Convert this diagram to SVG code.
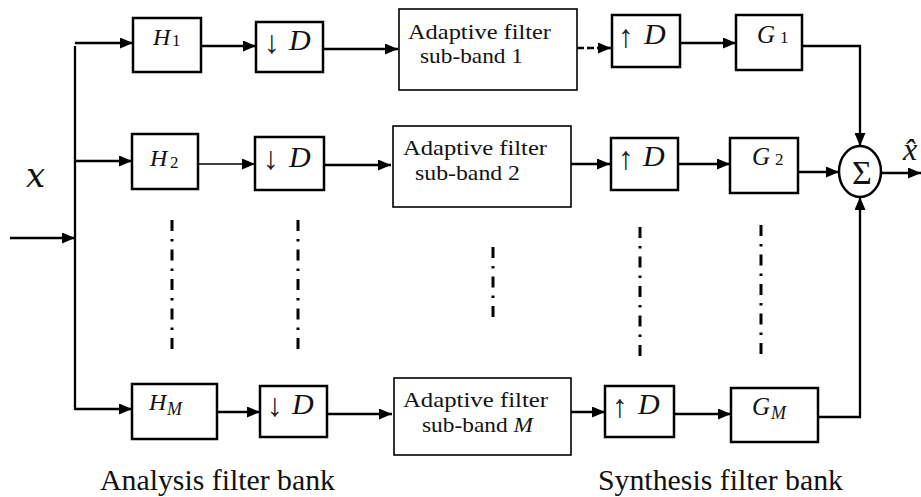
<svg xmlns="http://www.w3.org/2000/svg" width="921" height="497" viewBox="0 0 921 497">
  <defs>
    <marker id="arrow" markerUnits="userSpaceOnUse" markerWidth="13" markerHeight="11" refX="13" refY="5.5" orient="auto">
      <path d="M0,0 L13,5.5 L0,11 z" fill="#000"/>
    </marker>
  </defs>
  <style>
    .box { fill: #fff; stroke: #000; stroke-width: 2.5; }
    .abox { fill: #fff; stroke: #000; stroke-width: 1.6; }
    .wire { fill: none; stroke: #000; stroke-width: 2.3; }
    .arr { marker-end: url(#arrow); }
    .dots { fill: none; stroke: #000; stroke-width: 3; stroke-dasharray: 11 8 2.5 8; }
    .t { font-family: "Liberation Serif", "Times New Roman", serif; fill: #111; }
    .it { font-style: italic; }
    .ar { font-family: "Liberation Serif", "DejaVu Serif", serif; font-size: 32px; fill: #222; }
  </style>

  <rect width="921" height="497" fill="#fff"/>

  <!-- signal connectors -->
  <g id="connectors">
    <path class="wire arr" d="M10,238 H75"/>
    <path class="wire" d="M75,46 V410"/>
    <path class="wire arr" d="M75,43 H133"/>
    <path class="wire arr" d="M75,161 H132"/>
    <path class="wire arr" d="M75,409 H132"/>

    <path class="wire arr" d="M201,46 H256"/>
    <path class="wire arr" d="M198,164 H255" style="stroke-width:1.6"/>
    <path class="wire arr" d="M217,412 H260"/>

    <path class="wire arr" d="M323,49 H398"/>
    <path class="wire arr" d="M324,165 H391"/>
    <path class="wire arr" d="M327,414 H392"/>

    <path class="wire arr" d="M577,48 H611" style="stroke-dasharray:7 3"/>
    <path class="wire arr" d="M571,164 H610"/>
    <path class="wire arr" d="M571,412 H605"/>

    <path class="wire arr" d="M680,43 H736"/>
    <path class="wire arr" d="M678,164 H730"/>
    <path class="wire arr" d="M674,414 H731"/>

    <path class="wire arr" d="M802,46 H860 V146"/>
    <path class="wire arr" d="M798,172 H839"/>
    <path class="wire arr" d="M818,417 H860 V197"/>
    <path class="wire arr" d="M881,173 H921"/>
  </g>

  <!-- ellipsis lines between sub-bands -->
  <g id="ellipsis">
    <path class="dots" d="M172,220 V352"/>
    <path class="dots" d="M298,220 V352"/>
    <path class="dots" d="M493,247 V322"/>
    <path class="dots" d="M640,227 V358"/>
    <path class="dots" d="M761,225 V355"/>
  </g>

  <!-- analysis filters -->
  <g id="H1">
    <rect class="box" x="133" y="18" width="68" height="54"/>
    <text class="t it" x="153" y="45" font-size="24">H</text>
    <text class="t" x="172" y="46" font-size="17">1</text>
  </g>
  <g id="H2">
    <rect class="box" x="132" y="134" width="66" height="55"/>
    <text class="t it" x="150" y="166" font-size="24">H</text>
    <text class="t" x="170" y="168" font-size="17">2</text>
  </g>
  <g id="HM">
    <rect class="box" x="132" y="384" width="85" height="55"/>
    <text class="t it" x="149" y="410" font-size="24">H</text>
    <text class="t it" x="167" y="415" font-size="18">M</text>
  </g>

  <!-- decimators -->
  <g id="down1">
    <rect class="box" x="256" y="22" width="67" height="50"/>
    <text class="ar" x="264" y="53">↓</text>
    <text class="t it" x="289" y="50" font-size="30">D</text>
  </g>
  <g id="down2">
    <rect class="box" x="255" y="137" width="69" height="53"/>
    <text class="ar" x="263" y="169">↓</text>
    <text class="t it" x="289" y="167" font-size="30">D</text>
  </g>
  <g id="downM">
    <rect class="box" x="260" y="386" width="67" height="51"/>
    <text class="ar" x="267" y="416">↓</text>
    <text class="t it" x="292" y="414" font-size="30">D</text>
  </g>

  <!-- adaptive filters -->
  <g id="adapt1">
    <rect class="abox" x="399" y="9" width="178" height="81"/>
    <text class="t" x="408" y="39" font-size="21" textLength="143" lengthAdjust="spacingAndGlyphs">Adaptive filter</text>
    <text class="t" x="420" y="63" font-size="21" textLength="103" lengthAdjust="spacingAndGlyphs">sub-band 1</text>
  </g>
  <g id="adapt2">
    <rect class="abox" x="393" y="126" width="178" height="81"/>
    <text class="t" x="403" y="155" font-size="21" textLength="144" lengthAdjust="spacingAndGlyphs">Adaptive filter</text>
    <text class="t" x="415" y="180" font-size="21" textLength="105" lengthAdjust="spacingAndGlyphs">sub-band 2</text>
  </g>
  <g id="adaptM">
    <rect class="abox" x="394" y="378" width="177" height="77"/>
    <text class="t" x="403" y="407" font-size="21" textLength="145" lengthAdjust="spacingAndGlyphs">Adaptive filter</text>
    <text class="t" x="422" y="432" font-size="21" textLength="111" lengthAdjust="spacingAndGlyphs">sub-band <tspan class="it">M</tspan></text>
  </g>

  <!-- interpolators -->
  <g id="up1">
    <rect class="box" x="612" y="15" width="68" height="52"/>
    <text class="ar" x="618" y="47">↑</text>
    <text class="t it" x="644" y="44" font-size="30">D</text>
  </g>
  <g id="up2">
    <rect class="box" x="611" y="138" width="67" height="52"/>
    <text class="ar" x="618" y="169">↑</text>
    <text class="t it" x="643" y="166" font-size="30">D</text>
  </g>
  <g id="upM">
    <rect class="box" x="605" y="386" width="69" height="51"/>
    <text class="ar" x="612" y="417">↑</text>
    <text class="t it" x="638" y="414" font-size="30">D</text>
  </g>

  <!-- synthesis filters -->
  <g id="G1">
    <rect class="box" x="736" y="15" width="66" height="55"/>
    <text class="t it" x="757" y="43" font-size="25">G</text>
    <text class="t" x="780" y="43" font-size="17">1</text>
  </g>
  <g id="G2">
    <rect class="box" x="730" y="138" width="68" height="55"/>
    <text class="t it" x="752" y="165" font-size="25">G</text>
    <text class="t" x="775" y="165" font-size="17">2</text>
  </g>
  <g id="GM">
    <rect class="box" x="731" y="388" width="87" height="54"/>
    <text class="t it" x="752" y="415" font-size="25">G</text>
    <text class="t it" x="771" y="419" font-size="18">M</text>
  </g>

  <!-- summing junction -->
  <g id="sum">
    <ellipse cx="860" cy="171.5" rx="21" ry="25.5" fill="#fff" stroke="#000" stroke-width="2.5"/>
    <text class="t" x="862" y="184" font-size="34" text-anchor="middle">Σ</text>
  </g>

  <!-- signal labels -->
  <g id="labels">
    <text x="26" y="187" font-size="34" font-style="italic" font-family="'DejaVu Serif', 'Liberation Serif', serif" fill="#111">x</text>
    <text class="t it" x="903" y="160" font-size="32">x̂</text>
    <text class="t" x="100" y="490" font-size="29" textLength="235" lengthAdjust="spacingAndGlyphs">Analysis filter bank</text>
    <text class="t" x="598" y="490" font-size="29" textLength="245" lengthAdjust="spacingAndGlyphs">Synthesis filter bank</text>
  </g>
</svg>
